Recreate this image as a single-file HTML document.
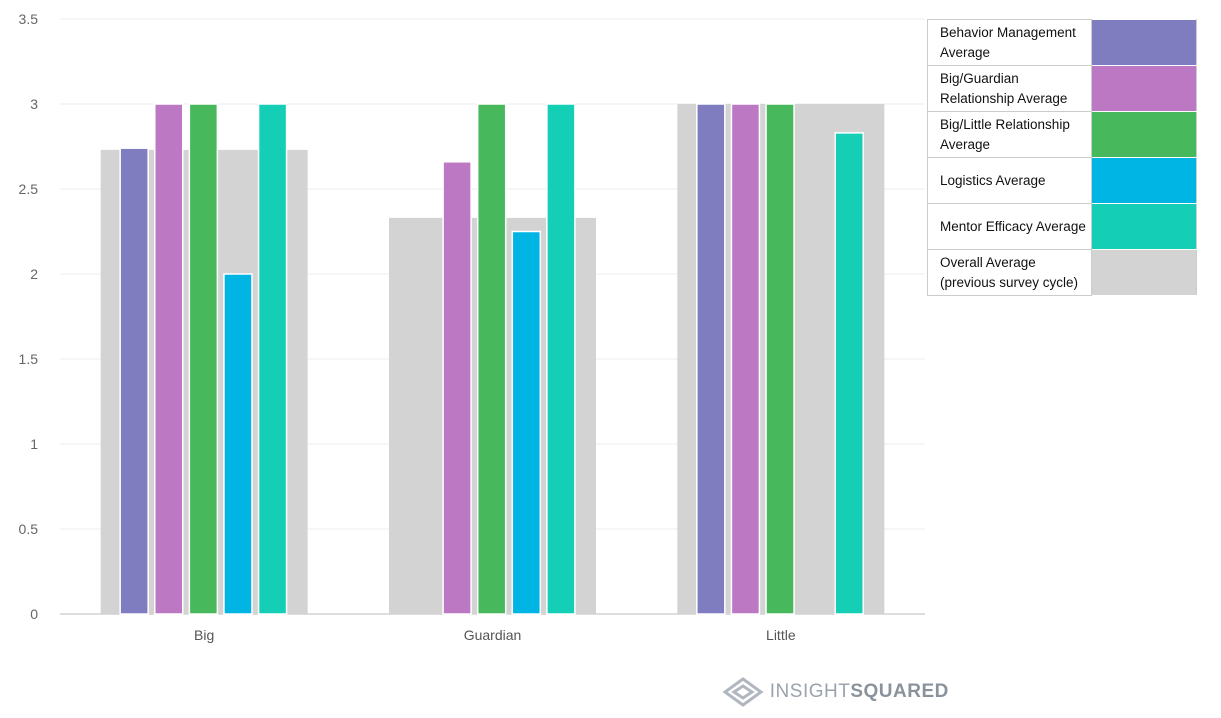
<!DOCTYPE html>
<html><head><meta charset="utf-8"><style>
body{margin:0;background:#fff;font-family:"Liberation Sans",sans-serif;}
#wrap{position:relative;width:1221px;height:718px;overflow:hidden}
table{position:absolute;left:927px;top:19px;border-collapse:collapse;font-size:13.5px;color:#111}
td{border:1px solid #ccc;height:45px;padding:0 0 0 12px;width:151px;line-height:20px}
td.sw{width:104px;padding:0;border-color:#fff #ccc}
</style></head><body><div id="wrap">
<svg id="svg" width="1221" height="718"></svg>
<table>
<tr><td>Behavior Management Average</td><td class="sw" style="background:#7f7cbf"></td></tr>
<tr><td>Big/Guardian Relationship Average</td><td class="sw" style="background:#bd78c4"></td></tr>
<tr><td>Big/Little Relationship Average</td><td class="sw" style="background:#48b85c"></td></tr>
<tr><td>Logistics Average</td><td class="sw" style="background:#00b4e4"></td></tr>
<tr><td>Mentor Efficacy Average</td><td class="sw" style="background:#14cfb5"></td></tr>
<tr><td>Overall Average (previous survey cycle)</td><td class="sw" style="background:#d3d3d3"></td></tr>
</table>
<div style="position:absolute;left:722px;top:676px;font-size:19px;color:#9aa3ad;letter-spacing:0.5px">
<svg width="42" height="32" style="vertical-align:middle"><path d="M21 3 L39 16 L21 29 L3 16 Z M21 10 L30 16 L21 22 L12 16 Z" fill="none" stroke="#b0b7bf" stroke-width="3"/></svg>
<span>INSIGHT<b style="color:#8a939c">SQUARED</b></span></div>
</div>
<script>
const categories=["Big","Guardian","Little"];
const behavior=[2.74,0,3];
const bigGuardian=[3,2.66,3];
const bigLittle=[3,3,3];
const logistics=[2,2.25,0];
const mentor=[3,3,2.83];
const overall=[2.73,2.33,3];
const yTicks=[0,0.5,1,1.5,2,2.5,3,3.5];
const colors=["#7f7cbf","#bd78c4","#48b85c","#00b4e4","#14cfb5"];
const series=[behavior,bigGuardian,bigLittle,logistics,mentor];
const ns="http://www.w3.org/2000/svg",svg=document.getElementById("svg");
const x0=60,x1=925,y0=614,yTop=19,yMax=3.5;
const y=v=>y0-(v/yMax)*(y0-yTop);
const gw=(x1-x0)/categories.length;
const cx=i=>x0+gw*(i+0.5);
function mk(t,a){const e=document.createElementNS(ns,t);for(const k in a)e.setAttribute(k,a[k]);svg.appendChild(e);return e;}
yTicks.forEach(t=>{
 const l=mk("line",{x1:x0,x2:x1,y1:y(t),y2:y(t),stroke:t===0?"#bbb":"#eee"});
 
 
 const tx=mk("text",{x:38,y:y(t)+5,"text-anchor":"end","font-size":14,fill:"#666","font-family":"Liberation Sans"});
 tx.textContent=t;
 
 
});
categories.forEach((c,i)=>{
 const g=mk("rect",{x:cx(i)-103.5,y:y(overall[i]),width:207,height:y0-y(overall[i]),fill:"#d3d3d3"});
 
 
 series.forEach((s,j)=>{
  if(!s[i])return;
  const bx=cx(i)-84+j*34.6;
  const r=mk("rect",{x:bx,y:y(s[i]),width:28,height:y0-y(s[i]),fill:colors[j],stroke:"#fff","stroke-width":1.5});
  
  
 });
 const t=mk("text",{x:cx(i),y:640,"text-anchor":"middle","font-size":14,fill:"#555","font-family":"Liberation Sans"});
 t.textContent=c;
 
 
});
</script></body></html>
